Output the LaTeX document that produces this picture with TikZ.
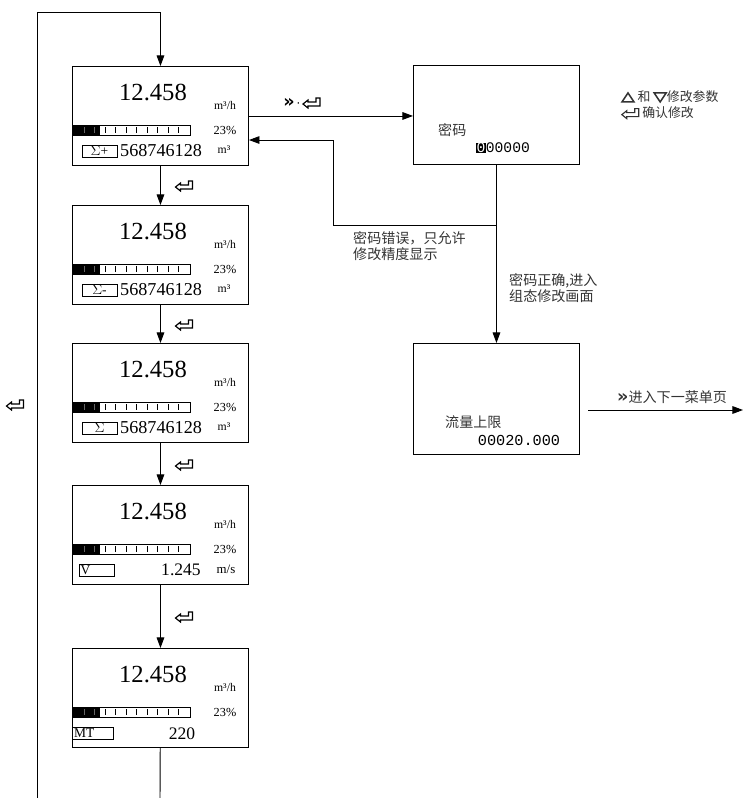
\documentclass[tikz,border=0pt]{standalone}
\usepackage{fontspec}
\setmainfont{Liberation Serif}
\setmonofont{Liberation Mono}
\newfontfamily\cjk{Noto Sans CJK SC}
\newfontfamily\symf{DejaVu Sans}
\usetikzlibrary{arrows.meta,calc}
\tikzset{
    screen/.style={
        draw,line width=0.8pt,anchor=north west,inner sep=0pt,minimum width=5.28cm,minimum height=2.97cm
    },
    flow/.style={
        line width=0.8pt,-{Triangle[length=9pt,width=6.5pt]}
    },
    wire/.style={
        line width=0.8pt
    },
    note/.style={
        font=\cjk\fontsize{12}{14}\selectfont,text=black!80,inner sep=0pt,anchor=west,align=left
    },
    tag/.style={
        draw,line width=0.6pt,inner sep=0pt,minimum width=1.05cm,minimum height=0.36cm,font=\fontsize{11.5}{11.5}\selectfont
    }
}
\newcommand{\retkey}{\tikz[baseline=0pt,x=0.03cm,y=0.03cm]\draw[line width=1pt,line join=miter]
    (0,3) -- (5,7) -- (5,5) -- (13,5) -- (13,9) -- (17,9) -- (17,1) -- (5,1) -- (5,-1) -- cycle;}
\newcommand{\uptri}{\tikz[baseline=0pt,x=0.03cm,y=0.03cm]\draw[line width=1.3pt,line join=miter]
    (0,0) -- (12,0) -- (6,9) -- cycle;}
\newcommand{\downtri}{\tikz[baseline=0pt,x=0.03cm,y=0.03cm]\draw[line width=1.3pt,line join=miter]
    (0,9) -- (12,9) -- (6,0) -- cycle;}
\newcommand{\dchev}{{\symf\bfseries\fontsize{15}{15}\selectfont »}}

\begin{document}
\begin{tikzpicture}[x=0.03cm,y=-0.03cm]
\useasboundingbox (0,0) rectangle (744,798);
% the five display screens
\node[screen] (box1) at (72,66) {};
\node[screen] (box2) at (72,205) {};
\node[screen] (box3) at (72,343) {};
\node[screen] (box4) at (72,485) {};
\node[screen] (box5) at (72,648) {};
\foreach \ytop in {66,205,343,485,648} {
  \begin{scope}[shift={(72,\ytop)}]
    \node (num\ytop) at (81,26) {\fontsize{21}{21}\selectfont 12.458};
    \node (rate\ytop) at (153,39) {\fontsize{10}{10}\selectfont m³/h};
    \node (pct\ytop) at (153,64) {\fontsize{10.5}{10.5}\selectfont 23\%};
    \fill (1,59) rectangle (28,69);
    \draw[line width=0.6pt] (1,59) rectangle (118,69);
    \foreach \i in {1,2}
      \draw[black!60,line width=0.5pt] ({1.5+10.5*\i},61) -- ({1.5+10.5*\i},67);
    \foreach \i in {3,...,10}
      \draw[line width=0.5pt] ({1.5+10.5*\i},61) -- ({1.5+10.5*\i},67);
  \end{scope}
}
% bottom rows
\node[tag] (tag1) at (99.5,151) {$\Sigma$+};
\node[anchor=west,inner sep=0pt] (tot1) at (120,151) {\fontsize{15.5}{15.5}\selectfont 568746128};
\node (unit1) at (224,150) {\fontsize{10}{10}\selectfont m³};
\node[tag] (tag2) at (99.5,290) {$\Sigma$-};
\node[anchor=west,inner sep=0pt] (tot2) at (120,290) {\fontsize{15.5}{15.5}\selectfont 568746128};
\node (unit2) at (224,289) {\fontsize{10}{10}\selectfont m³};
\node[tag] (tag3) at (99.5,428) {$\Sigma$};
\node[anchor=west,inner sep=0pt] (tot3) at (120,428) {\fontsize{15.5}{15.5}\selectfont 568746128};
\node (unit3) at (224,427) {\fontsize{10}{10}\selectfont m³};
\node[tag,text width=0.95cm] (tag4) at (96.5,570) {V};
\node (vel4) at (181,570) {\fontsize{15}{15}\selectfont 1.245};
\node (unit4) at (226,569) {\fontsize{11}{11}\selectfont m/s};
\node[tag,minimum width=1.23cm,text width=1.1cm] (tag5) at (92.5,733) {MT};
\node (mt5) at (182,734) {\fontsize{15}{15}\selectfont 220};
% steps down the list
\draw[flow] (box1) -- (box2);
\draw[flow] (box2) -- (box3);
\draw[flow] (box3) -- (box4);
\draw[flow] (box4) -- (box5);
\node (key12) at (184,186) {\retkey};
\node (key23) at (184,325) {\retkey};
\node (key34) at (184,465) {\retkey};
\node (key45) at (184,617) {\retkey};
% back to the top
\coordinate (loopbot) at (37,798);
\coordinate (looptop) at (37,12);
\coordinate (tailend) at (160,798);
\draw[wire] (box5) -- (tailend);
\draw[flow] (loopbot) -- (looptop) -| (box1.north);
\node (keyback) at (15,405) {\retkey};
% password screen
\node[screen,minimum width=4.98cm] (pwd) at (413,65) {};
\node[note] (pwdlabel) at (438,130) {密码};
\node (pwdval) at (503,148) {\ttfamily\fontsize{12.5}{12.5}\selectfont{\fboxsep=0.4pt\colorbox{black}{\textcolor{white}{0}}}00000};
\draw[flow] (box1.east) -- (box1.east -| pwd.west);
\node (keysel) at (302,103) {\dchev\,{\symf ·}\,\retkey};
% wrong password
\coordinate (errrow) at (333,225);
\coordinate (errtop) at (333,140);
\coordinate (split) at (pwd.south |- errrow);
\draw[flow] (split) -- (errrow) -- (errtop) -- (errtop -| box1.east);
\node[note] (errnote) at (353,246) {密码错误，只允许\\修改精度显示};
% right password
\node[screen,minimum width=4.98cm,minimum height=3.33cm] (cfg) at (413,343) {};
\draw[flow] (pwd) -- (cfg);
\node[note] (oknote) at (509,288) {密码正确,进入\\组态修改画面};
\node[note] (cfgname) at (445,422) {流量上限};
\node (cfgval) at (519,440) {\ttfamily\fontsize{13}{13}\selectfont 00020.000};
\coordinate (nextin) at (588,410);
\coordinate (nextout) at (743,410);
\draw[flow] (nextin) -- (nextout);
\node[note] (nextnote) at (617,397) {\dchev 进入下一菜单页};
% key legend
\node[note,font=\cjk\fontsize{11}{13}\selectfont] (legend1) at (621,97) {\uptri\ 和 \downtri 修改参数};
\node[note,font=\cjk\fontsize{11}{13}\selectfont] (legend2) at (621,113) {\retkey\ 确认修改};
\end{tikzpicture}
\end{document}
